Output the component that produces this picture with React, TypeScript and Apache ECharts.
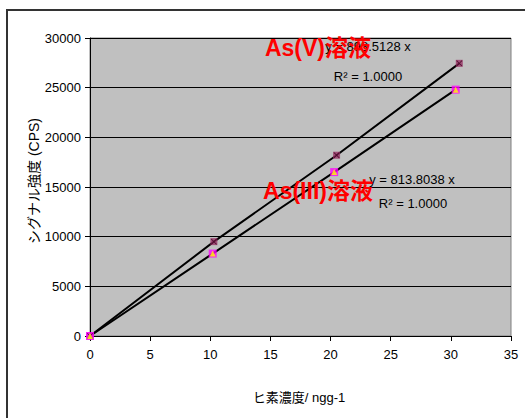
import React, { useEffect, useRef } from "react";
import * as echarts from "echarts";

const asVData: [number, number][] = [
  [0, 0],
  [10.3, 9500],
  [20.5, 18200],
  [30.7, 27450],
];
const asIIIData: [number, number][] = [
  [0, 0],
  [10.2, 8300],
  [20.3, 16500],
  [30.4, 24800],
];
const asVLabel = "As(V)溶液";
const asIIILabel = "As(III)溶液";
const asVEquation = "y = 893.5128 x";
const asIIIEquation = "y = 813.8038 x";
const r2Text = "R² = 1.0000";
const xTitle = "ヒ素濃度/ ngg-1";
const yTitle = "シグナル強度 (CPS)";

const FONT = "'Liberation Sans', Arial, 'Noto Sans CJK JP', sans-serif";
const xMark =
  "path://M0,1L1,0L5,4L9,0L10,1L6,5L10,9L9,10L5,6L1,10L0,9L4,5Z";

export default function App() {
  const ref = useRef<HTMLDivElement>(null);
  useEffect(() => {
    if (!ref.current) return;
    const chart = echarts.init(ref.current, null, { renderer: "svg" });
    chart.setOption({
      animation: false,
      backgroundColor: "#ffffff",
      textStyle: { fontFamily: FONT },
      grid: {
        left: 90,
        top: 38,
        right: 14,
        bottom: 82,
        show: true,
        backgroundColor: "#c0c0c0",
        borderColor: "#808080",
        borderWidth: 1,
      },
      xAxis: {
        type: "value",
        min: 0,
        max: 35,
        interval: 5,
        axisLine: { show: true, onZero: false, lineStyle: { color: "#000", width: 1 } },
        axisTick: { show: true, length: 5, lineStyle: { color: "#000" } },
        axisLabel: { color: "#000", fontSize: 13, margin: 12, fontFamily: FONT },
        splitLine: { show: false },
      },
      yAxis: {
        type: "value",
        min: 0,
        max: 30000,
        interval: 5000,
        axisLine: { show: true, lineStyle: { color: "#000", width: 1 } },
        axisTick: { show: true, length: 5, lineStyle: { color: "#000" } },
        axisLabel: {
          color: "#000",
          fontSize: 13,
          margin: 9,
          fontFamily: FONT,
          formatter: (v: number) => String(v),
        },
        splitLine: { show: true, lineStyle: { color: "#000", width: 1 } },
      },
      series: [
        {
          type: "line",
          data: asVData,
          symbol: "none",
          lineStyle: { color: "#000", width: 2 },
          z: 2,
        },
        {
          type: "line",
          data: asIIIData,
          symbol: "none",
          lineStyle: { color: "#000", width: 2 },
          z: 2,
        },
        {
          type: "scatter",
          data: asVData,
          symbol: "rect",
          symbolSize: 7,
          itemStyle: { color: "#993366" },
          z: 3,
        },
        {
          type: "scatter",
          data: asVData,
          symbol: xMark,
          symbolSize: 6,
          itemStyle: { color: "#400020" },
          z: 4,
        },
        {
          type: "scatter",
          data: asIIIData,
          symbol: "rect",
          symbolSize: 8,
          itemStyle: { color: "#ff00ff" },
          z: 3,
        },
        {
          type: "scatter",
          data: asIIIData,
          symbol: "triangle",
          symbolSize: 6,
          itemStyle: { color: "#ffff00" },
          z: 4,
        },
      ],
      graphic: [
        {
          type: "rect",
          shape: { x: 7, y: 10, width: 540, height: 440 },
          style: { fill: "none", stroke: "#333", lineWidth: 2 },
          silent: true,
          z: 0,
        },
        {
          type: "text",
          x: 368,
          y: 46,
          style: {
            text: asVEquation,
            font: `13px ${FONT}`,
            fill: "#000",
            align: "center",
            verticalAlign: "middle",
          },
          z: 10,
        },
        {
          type: "text",
          x: 368,
          y: 76,
          style: {
            text: r2Text,
            font: `13px ${FONT}`,
            fill: "#000",
            align: "center",
            verticalAlign: "middle",
          },
          z: 10,
        },
        {
          type: "text",
          x: 412,
          y: 179,
          style: {
            text: asIIIEquation,
            font: `13px ${FONT}`,
            fill: "#000",
            align: "center",
            verticalAlign: "middle",
          },
          z: 10,
        },
        {
          type: "text",
          x: 413,
          y: 203,
          style: {
            text: r2Text,
            font: `13px ${FONT}`,
            fill: "#000",
            align: "center",
            verticalAlign: "middle",
          },
          z: 10,
        },
        {
          type: "text",
          x: 318,
          y: 48,
          style: {
            text: asVLabel,
            font: `bold 23px ${FONT}`,
            fill: "#ff0000",
            align: "center",
            verticalAlign: "middle",
          },
          z: 11,
        },
        {
          type: "text",
          x: 318,
          y: 191,
          style: {
            text: asIIILabel,
            font: `bold 23px ${FONT}`,
            fill: "#ff0000",
            align: "center",
            verticalAlign: "middle",
          },
          z: 11,
        },
        {
          type: "text",
          x: 299,
          y: 397,
          style: {
            text: xTitle,
            font: `13px ${FONT}`,
            fill: "#000",
            align: "center",
            verticalAlign: "middle",
          },
          z: 10,
        },
        {
          type: "text",
          x: 34,
          y: 181,
          rotation: Math.PI / 2,
          style: {
            text: yTitle,
            font: `14px ${FONT}`,
            fill: "#000",
            align: "center",
            verticalAlign: "middle",
          },
          z: 10,
        },
      ],
    });
    return () => chart.dispose();
  }, []);
  return (
    <div
      ref={ref}
      style={{ position: "fixed", left: 0, top: 0, width: 525, height: 418 }}
    />
  );
}
